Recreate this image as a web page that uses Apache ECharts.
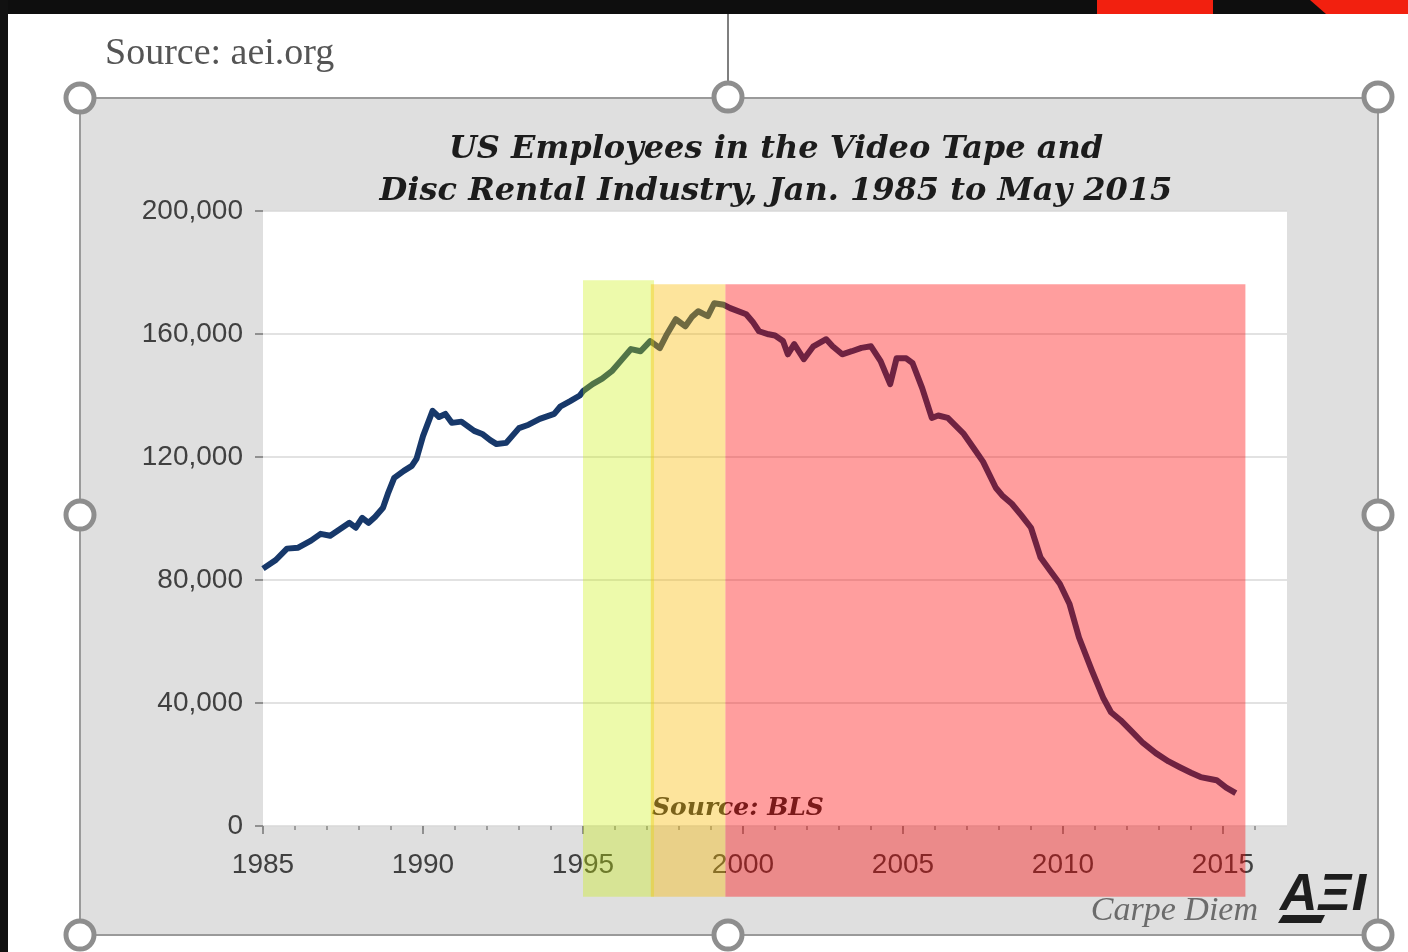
<!DOCTYPE html>
<html><head><meta charset="utf-8">
<script src="https://cdn.jsdelivr.net/npm/echarts@6/dist/echarts.min.js"></script>
<style>html,body{margin:0;padding:0;background:#fff;}#c{width:1408px;height:952px;}</style>
</head><body><div id="c"></div>
<script>
// ---- data ----
const years = [1985.0,1985.4,1985.75,1986.1,1986.5,1986.8,1987.1,1987.4,1987.7,1987.9,
  1988.1,1988.3,1988.5,1988.75,1988.9,1989.1,1989.4,1989.65,1989.8,1990.0,
  1990.3,1990.5,1990.7,1990.9,1991.2,1991.6,1991.85,1992.1,1992.3,1992.6,
  1993.0,1993.3,1993.65,1994.1,1994.3,1994.6,1994.9,1995.0,1995.3,1995.6,
  1995.9,1996.2,1996.5,1996.8,1997.1,1997.4,1997.6,1997.9,1998.2,1998.4,
  1998.6,1998.9,1999.1,1999.4,1999.6,2000.1,2000.3,2000.5,2000.8,2001.0,
  2001.25,2001.4,2001.6,2001.9,2002.2,2002.6,2002.8,2003.1,2003.4,2003.7,
  2004.0,2004.3,2004.6,2004.8,2005.1,2005.3,2005.6,2005.9,2006.1,2006.4,
  2006.9,2007.2,2007.5,2007.9,2008.1,2008.4,2008.7,2009.0,2009.3,2009.6,
  2009.9,2010.2,2010.5,2010.9,2011.25,2011.5,2011.8,2012.2,2012.5,2012.9,
  2013.3,2013.65,2014.0,2014.3,2014.6,2014.8,2015.1,2015.4];
const employees = [83700,86500,90200,90500,92800,95000,94400,96500,98600,97000,
  100200,98600,100500,103500,108000,113200,115500,117100,119500,126800,
  135000,133000,134000,131100,131500,128500,127500,125500,124200,124600,
  129400,130500,132400,134000,136500,138200,140000,141400,143700,145500,
  147900,151500,155100,154400,157700,155400,159500,164800,162500,165500,
  167400,165800,170000,169500,168400,166400,164000,160900,159900,159500,
  157700,153400,156700,151800,156000,158300,156000,153400,154400,155500,
  156000,151200,143700,152100,152100,150500,142400,132700,133500,132700,
  127500,123000,118500,110000,107500,104800,101000,97000,87300,83000,
  78800,72300,61300,50600,41800,37000,34400,30200,27000,23700,
  21000,19100,17300,15900,15300,14900,12500,10700];
const majorYears = [1985,1990,1995,2000,2005,2010,2015];
const minorYears = [1985,1986,1987,1988,1989,1990,1991,1992,1993,1994,1995,1996,1997,1998,1999,2000,
  2001,2002,2003,2004,2005,2006,2007,2008,2009,2010,2011,2012,2013,2014,2015,2016];
const periodStart = [1995.0, 1997.12, 1999.45];
const periodEnd = [1997.22, 1999.45, 2015.7];
const periodTop = [177500, 176200, 176200];
const periodBottom = [-23000, -23000, -23000];

// ---- styles ----
const periodFill = ['rgba(200,240,0,0.33)', 'rgba(250,186,0,0.39)', 'rgba(255,0,0,0.38)'];
const handles = [[80,98],[728,97],[1378,97],[80,515],[1378,515],[80,935],[728,935],[1378,935]];

const chart = echarts.init(document.getElementById('c'), null, {renderer: 'canvas', width: 1408, height: 952});

const graphics = [
  {type:'rect', z:-5, shape:{x:0,y:0,width:1408,height:952}, style:{fill:'#ffffff'}},
  {type:'rect', z:-4, shape:{x:80,y:98,width:1298,height:837}, style:{fill:'#dfdfdf', stroke:'#9a9a9a', lineWidth:2}},
  {type:'rect', z:20, shape:{x:0,y:0,width:1408,height:14}, style:{fill:'#0e0e0e'}},
  {type:'polygon', z:21, shape:{points:[[1097,0],[1213,0],[1213,14],[1097,14]]}, style:{fill:'#f2200f'}},
  {type:'polygon', z:21, shape:{points:[[1310,0],[1408,0],[1408,14],[1326,14]]}, style:{fill:'#f2200f'}},
  {type:'rect', z:20, shape:{x:0,y:0,width:8,height:952}, style:{fill:'#111111'}},
  {type:'line', z:9, shape:{x1:728,y1:14,x2:728,y2:82}, style:{stroke:'#555', lineWidth:1.5}},
  {type:'text', z:5, x:105, y:54, style:{text:'Source: aei.org', font:'38px "Liberation Serif"', fill:'#555', textVerticalAlign:'middle'}},
  {type:'text', z:1, x:652, y:808, style:{text:'Source: BLS', font:'italic bold 25px "DejaVu Serif"', fill:'#2a2a2a', textVerticalAlign:'middle'}},
  {type:'text', z:5, x:1258, y:911, style:{text:'Carpe Diem', font:'italic 34px "Liberation Serif"', fill:'#6b6b6b', textAlign:'right', textVerticalAlign:'middle'}},
  {type:'text', z:5, x:1280, y:896, style:{text:'A\u039EI', font:'italic 900 52px "Liberation Sans"', fill:'#1e1e1e', textVerticalAlign:'middle'}},
  {type:'polygon', z:5, shape:{points:[[1283,915],[1325,915],[1321,923],[1278,923]]}, style:{fill:'#1e1e1e'}}
];
handles.forEach(h => graphics.push({type:'circle', z:10, shape:{cx:h[0], cy:h[1], r:14}, style:{fill:'#ffffff', stroke:'#8e8e8e', lineWidth:5}}));

const option = {
  animation: false,
  title: {
    text: 'US Employees in the Video Tape and\nDisc Rental Industry, Jan. 1985 to May 2015',
    left: 771, top: 124, textAlign: 'center',
    textStyle: {fontFamily: 'DejaVu Serif', fontStyle: 'italic', fontWeight: 'bold', fontSize: 32, lineHeight: 42, color: '#1c1c1c'}
  },
  grid: {left: 263, right: 121, top: 211, bottom: 126, show: true, backgroundColor: '#ffffff', borderWidth: 0},
  xAxis: [
    {type: 'value', min: 1985, max: 2017, position: 'bottom',
      axisLine: {show: false}, splitLine: {show: false},
      axisTick: {show: true, customValues: majorYears, length: 8, lineStyle: {color: '#777', width: 1.5}},
      axisLabel: {customValues: majorYears, formatter: v => String(v), fontSize: 28, color: '#404040', fontFamily: 'Liberation Sans', margin: 25}},
    {type: 'value', min: 1985, max: 2017, position: 'bottom',
      axisLine: {show: false}, splitLine: {show: false},
      axisTick: {show: true, customValues: minorYears, length: 4, lineStyle: {color: '#888', width: 1.5}},
      axisLabel: {show: false}}
  ],
  yAxis: {type: 'value', min: 0, max: 200000, interval: 40000,
    axisLine: {show: false},
    axisTick: {show: true, length: 8, lineStyle: {color: '#777', width: 1.5}},
    axisLabel: {formatter: v => v.toLocaleString('en-US'), fontSize: 28, color: '#404040', fontFamily: 'Liberation Sans', margin: 20},
    splitLine: {lineStyle: {color: '#d9d9d9', width: 1.5}}},
  series: [
    {type: 'line', name: 'Employees', data: years.map((y, i) => [y, employees[i]]),
      symbol: 'none', lineStyle: {width: 6, color: '#17386a', join: 'round'}, z: 2},
    {type: 'custom', name: 'Periods', z: 3, clip: false, silent: true,
      data: periodStart.map((s, i) => [s, periodEnd[i], periodTop[i], periodBottom[i]]),
      encode: {x: [0, 1], y: [2, 3]},
      renderItem: (params, api) => {
        const p0 = api.coord([api.value(0), api.value(2)]);
        const p1 = api.coord([api.value(1), api.value(3)]);
        return {type: 'rect', shape: {x: p0[0], y: p0[1], width: p1[0] - p0[0], height: p1[1] - p0[1]},
          style: {fill: periodFill[params.dataIndex]}};
      }}
  ],
  graphic: graphics
};
chart.setOption(option);
</script></body></html>
